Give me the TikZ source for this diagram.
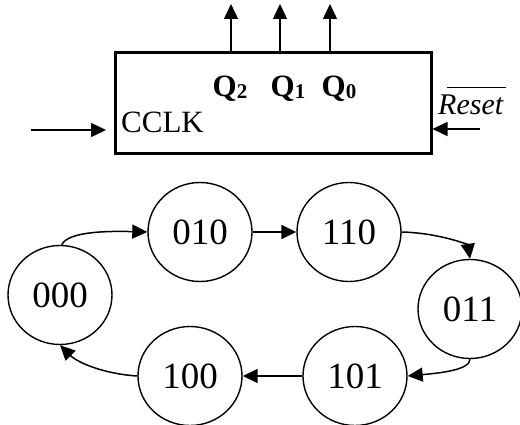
\documentclass[tikz,border=0pt]{standalone}
\usepackage{fontspec}
\setmainfont{Liberation Serif}
\usetikzlibrary{arrows.meta,shapes.geometric}
\begin{document}
\begin{tikzpicture}[x=1pt,y=-1pt,
  conn/.style={line width=1.5pt,-{Triangle[length=15pt,width=14pt]}},
  state/.style={draw,ellipse,line width=1.4pt,minimum width=104pt,minimum height=99pt,inner sep=0pt,font=\fontsize{37}{37}\selectfont},
  qlab/.style={font=\fontsize{31}{31}\selectfont\bfseries,inner sep=0pt,anchor=base}]
\useasboundingbox (0,0) rectangle (520,425);
% block
\node[draw,line width=3pt,minimum width=316pt,minimum height=101pt,inner sep=0pt] (box) at (273,103.5) {};
\node[qlab] (q2) at (230,97) {Q\raisebox{-2pt}{\fontsize{21}{21}\selectfont 2}};
\node[qlab] (q1) at (288,97) {Q\raisebox{-2pt}{\fontsize{21}{21}\selectfont 1}};
\node[qlab] (q0) at (339,97) {Q\raisebox{-2pt}{\fontsize{21}{21}\selectfont 0}};
\node[anchor=base west,inner sep=0pt,font=\fontsize{31}{31}\selectfont] (clk) at (121,133) {CCLK};
\node[anchor=base west,inner sep=0pt,font=\fontsize{30}{30}\selectfont\itshape] (reset) at (438,115) {Reset};
\draw[line width=1.2pt] ([xshift=9pt,yshift=8pt]reset.north west) -- ([xshift=3pt,yshift=8pt]reset.north east);
% outputs
\coordinate (o2) at (231,4);
\coordinate (o1) at (280,4);
\coordinate (o0) at (330,4);
\draw[conn] (box.north -| o2) -- (o2);
\draw[conn] (box.north -| o1) -- (o1);
\draw[conn] (box.north -| o0) -- (o0);
% inputs
\coordinate (clkin) at (31,130);
\coordinate (clkend) at (106,130);
\draw[conn] (clkin) -- (clkend);
\coordinate (rsin) at (480,129);
\draw[conn] (rsin) -- (box.east |- rsin);
% states
\node[state] (s000) at (60,295) {000};
\node[state] (s010) at (200,232) {010};
\node[state] (s110) at (349,232) {110};
\node[state] (s011) at (470,309) {011};
\node[state] (s101) at (355,376) {101};
\node[state] (s100) at (190,376) {100};
% transitions
\draw[conn] (s000.88) .. controls (68,231) and (110,231) .. (s010.west);
\draw[conn] (s010.east) -- (s110.west);
\draw[conn] (s110.east) .. controls (440,233) and (468,245) .. (s011.north);
\draw[conn] (s011.south) .. controls (470,370) and (440,373) .. (s101.east);
\draw[conn] (s101.west) -- (s100.east);
\draw[conn] (s100.west) .. controls (105,374) and (78,363) .. (s000.south);
\end{tikzpicture}
\end{document}
